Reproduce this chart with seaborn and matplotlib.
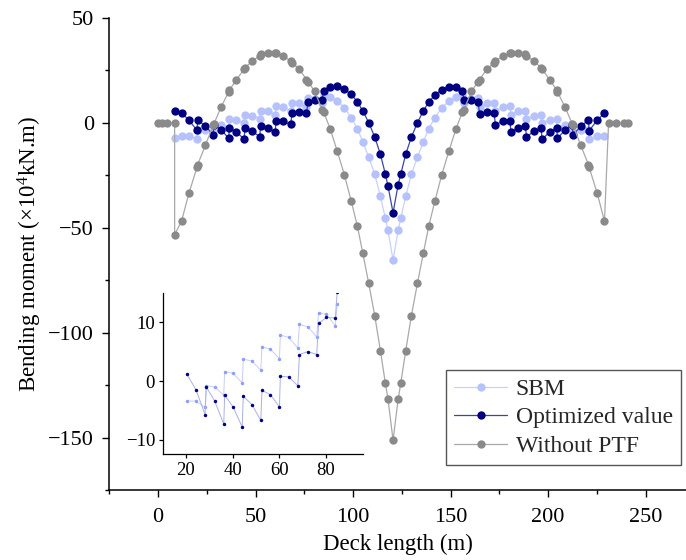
import matplotlib
matplotlib.use("Agg")
import matplotlib.pyplot as plt
import pandas as pd
import seaborn as sns
from matplotlib.ticker import MultipleLocator

# ---------------- data ----------------
deck_x = [8.5, 12.1, 15.8, 20.0, 20.3, 24.3, 28.2, 28.7, 32.3, 36.2, 36.6, 40.2, 44.1, 44.6,
          48.3, 52.1, 52.6, 56.2, 60.1, 60.5, 64.1, 68.0, 68.7, 72.3, 76.1, 76.9, 80.3, 84.1,
          84.9, 88.2, 91.9, 95.5, 99.1, 102.2, 105.0, 108.0, 111.1, 114.0, 116.5, 117.9, 120.5,
          123.1, 124.5, 127.0, 129.9, 133.0, 136.0, 138.8, 141.9, 145.5, 149.1, 152.8, 156.1,
          156.9, 160.7, 164.1, 164.9, 168.7, 172.3, 173.0, 176.9, 180.5, 180.9, 184.8, 188.4,
          188.9, 192.7, 196.4, 196.9, 200.8, 204.4, 204.8, 208.7, 212.3, 212.8, 216.7, 220.7,
          221.0, 225.2, 228.9]

sbm = [-7.1, -6.4, -6.4, -7.6, -3.4, -3.4, -4.5, -0.8, -1.0, -2.4, 1.6, 1.3, -0.3, 3.7,
       3.4, 1.8, 5.8, 5.4, 3.8, 7.8, 7.4, 5.6, 9.6, 9.2, 7.5, 11.6, 11.3, 9.4,
       13.0, 12.4, 10.3, 7.2, 2.3, -2.8, -9.2, -16.3, -24.6, -35.0, -45.3, -51.3, -65.5,
       -51.3, -45.3, -35.0, -24.6, -16.3, -9.2, -2.8, 2.3, 7.2, 10.3, 12.4, 13.0,
       9.4, 11.3, 11.6, 7.5, 9.2, 9.6, 5.6, 7.4, 7.8, 3.8, 5.4, 5.8,
       1.8, 3.4, 3.7, -0.3, 1.3, 1.6, -2.4, -1.0, -0.8, -4.5, -3.4, -3.4,
       -7.6, -6.4, -6.4]

optimized = [5.8, 4.7, 1.2, -3.6, 1.2, -1.5, -5.7, -1.0, -3.4, -7.3, -2.4, -4.4, -7.8, -2.6,
             -4.0, -6.7, -1.6, -2.3, -4.4, 0.8, 0.7, -0.8, 4.5, 5.0, 4.5, 9.8, 10.8, 10.7,
             15.2, 17.1, 17.4, 16.0, 13.6, 9.9, 5.6, 0.1, -6.8, -15.0, -24.3, -30.2, -42.9,
             -29.5, -24.3, -15.0, -6.8, 0.0, 5.6, 9.9, 13.2, 15.8, 17.2, 17.0, 15.0,
             10.7, 10.7, 9.7, 4.2, 5.1, 4.5, -1.0, 0.8, 0.8, -4.6, -2.3, -1.6,
             -6.8, -4.0, -2.6, -7.9, -4.4, -2.4, -7.5, -3.3, -1.0, -5.8, -1.6, 1.2,
             -3.8, 1.2, 4.7]

gray_x = [0.0, 2.2, 4.4, 8.5, 8.5, 12.1, 15.8, 20.0, 20.3, 24.3, 28.2, 28.7, 32.3, 36.2, 36.6,
          40.2, 44.1, 44.6, 48.3, 52.1, 52.6, 56.2, 60.1, 60.5, 64.1, 68.0, 68.7, 72.3, 76.1,
          76.9, 80.3, 84.1, 84.9, 88.2, 91.9, 95.5, 99.1, 102.2, 105.0, 108.0, 111.1, 114.0,
          116.5, 117.9, 120.5, 123.1, 124.5, 127.0, 129.9, 133.0, 136.0, 138.8, 141.9, 145.5,
          149.1, 152.8, 156.1, 156.9, 160.7, 164.1, 164.9, 168.7, 172.3, 173.0, 176.9, 180.5,
          180.9, 184.8, 188.4, 188.9, 192.7, 196.4, 196.9, 200.8, 204.4, 204.8, 208.7, 212.3,
          212.8, 216.7, 220.7, 221.0, 225.2, 228.9, 231.0, 235.0, 239.0, 241.0]

without_ptf = [0.0, 0.0, 0.0, 0.0, -53.4, -46.7, -33.7, -21.1, -20.0, -10.7, -1.2, -0.4, 7.4,
               14.7, 15.5, 20.6, 25.4, 26.2, 29.4, 31.8, 32.6, 33.0, 33.0, 33.0, 31.8, 29.4,
               28.6, 25.7, 20.6, 19.5, 15.0, 6.3, 5.2, -2.8, -13.6, -24.7, -37.5, -49.3, -62.2,
               -76.5, -91.9, -108.6, -123.8, -131.7, -151.3, -131.7, -123.8, -108.6, -91.9,
               -76.5, -62.2, -49.3, -37.5, -24.7, -13.6, -2.8, 5.2, 6.3, 15.0, 19.5, 20.6,
               25.7, 28.6, 29.4, 31.8, 33.0, 33.0, 33.0, 32.6, 31.8, 29.4, 26.2, 25.4, 20.6,
               15.5, 14.7, 7.4, -0.4, -1.2, -10.7, -20.0, -21.1, -33.7, -46.9, 0.0, 0.0, 0.0, 0.0]

series_labels = ["SBM", "Optimized value", "Without PTF"]
x_ticks = [0, 50, 100, 150, 200, 250]
y_ticks = [-150, -100, -50, 0, 50]
inset_x_ticks = [20, 40, 60, 80]
inset_y_ticks = [-10, 0, 10]
inset_range = (20.2, 85.5)

# ---------------- style ----------------
sns.set_theme(style="ticks")
plt.rcParams['font.family'] = ['Liberation Serif', 'DejaVu Serif']
plt.rcParams['mathtext.fontset'] = 'custom'
plt.rcParams['mathtext.rm'] = 'Liberation Serif'
plt.rcParams['mathtext.it'] = 'Liberation Serif:italic'
plt.rcParams['axes.unicode_minus'] = True

SBM_MK, SBM_LN = '#b6c2ff', '#c9d0fb'
OPT_MK, OPT_LN = '#000080', '#3a46a6'
GRY_MK, GRY_LN = '#8a8a8a', '#a9a9a9'

fig = plt.figure(figsize=(6.86, 5.6), dpi=100)
ax = fig.add_axes([109.3 / 686, 1 - 490 / 560, 1 - 109.3 / 686, (490 - 17.8) / 560])

df = pd.DataFrame({'x': deck_x, 'SBM': sbm, 'Optimized value': optimized})
dg = pd.DataFrame({'x': gray_x, 'Without PTF': without_ptf})

common = dict(estimator=None, sort=False, marker='o', markersize=6.0,
              markeredgewidth=0, linewidth=0.9)
sns.lineplot(data=df, x='x', y='SBM', ax=ax, color=SBM_LN, markerfacecolor=SBM_MK,
             markeredgecolor=SBM_MK, label=series_labels[0], **common)
sns.lineplot(data=df, x='x', y='Optimized value', ax=ax, color=OPT_LN, markerfacecolor=OPT_MK,
             markeredgecolor=OPT_MK, label=series_labels[1], **common)
sns.lineplot(data=dg, x='x', y='Without PTF', ax=ax, color=GRY_LN, markerfacecolor=GRY_MK,
             markeredgecolor=GRY_MK, label=series_labels[2], **common)

ax.set_xlim(-25, 270.7)
ax.set_ylim(-175, 50)
ax.set_xticks(x_ticks)
ax.set_yticks(y_ticks)
ax.xaxis.set_minor_locator(MultipleLocator(25))
ax.yaxis.set_minor_locator(MultipleLocator(25))
ax.tick_params(which='major', direction='out', length=5, width=1.0, color='black',
               labelsize=16, pad=6, labelcolor='black', bottom=True, left=True)
ax.tick_params(axis='x', which='major', pad=8)
ax.tick_params(which='minor', direction='out', length=3, width=1.0, color='black',
               bottom=True, left=True)
for s in ['top', 'right']:
    ax.spines[s].set_visible(False)
for s in ['left', 'bottom']:
    ax.spines[s].set_color('black')
    ax.spines[s].set_linewidth(1.1)
ax.grid(False)
ax.set_xlabel('Deck length (m)', fontsize=16.5, labelpad=5, color='black')
ax.set_ylabel('Bending moment (×10$^{4}$kN.m)', fontsize=16.5, labelpad=3, color='black')

handles, labels = ax.get_legend_handles_labels()
leg = ax.legend(handles, labels, loc='upper left', bbox_to_anchor=(446 / 686, 1 - 370 / 560),
                bbox_transform=fig.transFigure, frameon=True, fancybox=False,
                edgecolor='#555555', framealpha=1, fontsize=17, handlelength=2.25,
                handletextpad=0.35, borderpad=0.35, labelspacing=0.3, borderaxespad=0,
                numpoints=1)
leg.get_frame().set_linewidth(1.0)

# ---------------- inset ----------------
axin = fig.add_axes([162.7 / 686, 1 - 454 / 560, (363.3 - 162.7) / 686, (454 - 292.7) / 560])
axin.set_facecolor('white')
sub = df[(df['x'] >= inset_range[0]) & (df['x'] <= inset_range[1])]
small = dict(estimator=None, sort=False, marker='o', markersize=2.5,
             markeredgewidth=0, linewidth=0.7, legend=False)
sns.lineplot(data=sub, x='x', y='SBM', ax=axin, color='#c8cef6', markerfacecolor='#8d9ffb',
             markeredgecolor='#8d9ffb', **small)
sns.lineplot(data=sub, x='x', y='Optimized value', ax=axin, color='#a9b0e6',
             markerfacecolor=OPT_MK, markeredgecolor=OPT_MK, **small)
axin.set_xlim(10, 96.1)
axin.set_ylim(-12.4, 15)
axin.set_xticks(inset_x_ticks)
axin.set_yticks(inset_y_ticks)
axin.tick_params(which='major', direction='out', length=3, width=0.9, color='black',
                 labelsize=13.5, pad=2.5, labelcolor='black', bottom=True, left=True)
for s in ['top', 'right']:
    axin.spines[s].set_visible(False)
for s in ['left', 'bottom']:
    axin.spines[s].set_color('black')
    axin.spines[s].set_linewidth(0.9)
axin.set_xlabel('')
axin.set_ylabel('')
axin.grid(False)

fig.savefig('out.png', dpi=100)
